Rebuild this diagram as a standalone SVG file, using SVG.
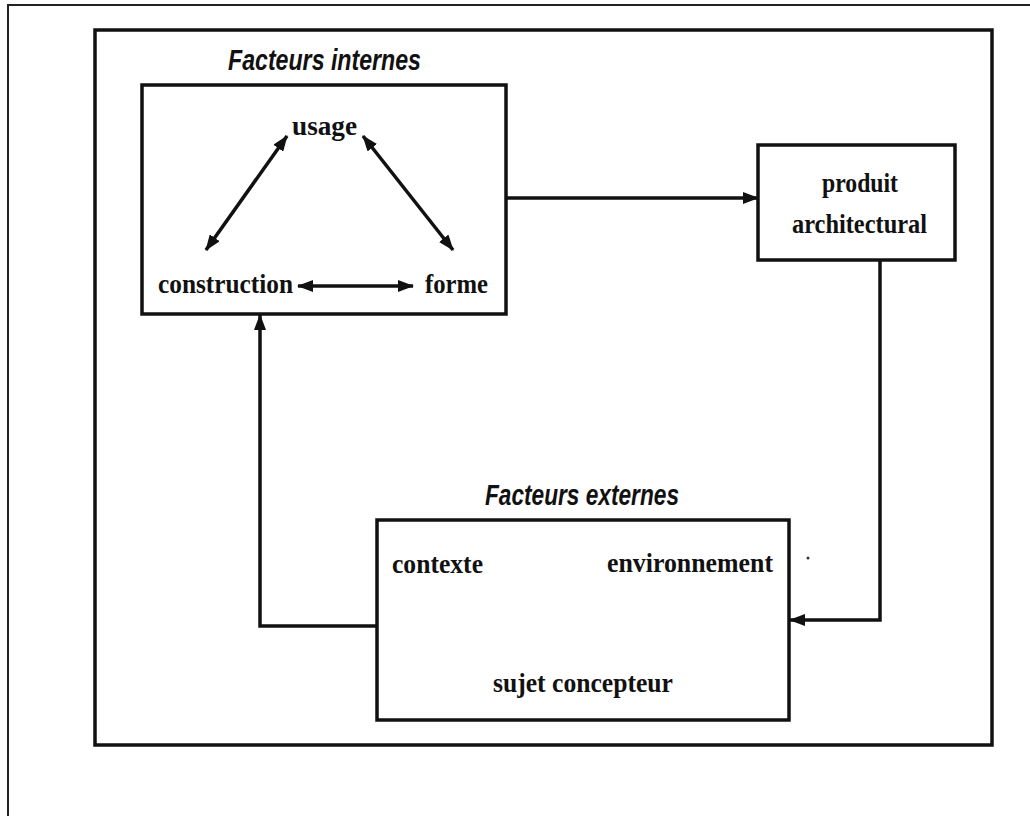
<svg xmlns="http://www.w3.org/2000/svg" width="1030" height="816" viewBox="0 0 1030 816">
  <style>
    .frame { fill: none; stroke: #222; stroke-width: 2; }
    .box { fill: #fff; stroke: #111; stroke-width: 3.5; }
    .wire { fill: none; stroke: #111; stroke-width: 3.5; }
    .lbl { font-family: "Liberation Serif", "Times New Roman", serif; font-size: 28px; font-weight: bold; fill: #111; }
    .title { font-family: "Liberation Sans", Arial, sans-serif; font-size: 29px; font-weight: bold; font-style: italic; fill: #111; }
  </style>
  <defs>
    <marker id="head" viewBox="0 0 16 12" refX="15" refY="6" markerWidth="16" markerHeight="12" markerUnits="userSpaceOnUse" orient="auto-start-reverse">
      <path d="M0,0 L16,6 L0,12 Z" fill="#111"/>
    </marker>
  </defs>

  <rect width="1030" height="816" fill="#fff"/>

  <!-- page edge -->
  <path class="frame" d="M8,816 V5 H1030"/>

  <!-- surrounding frame -->
  <rect id="cadre" class="box" x="95" y="30" width="897" height="715" fill="none"/>

  <g id="facteurs-internes">
    <rect class="box" x="142" y="85" width="364" height="229"/>
    <text class="title" x="228" y="70" textLength="193" lengthAdjust="spacingAndGlyphs">Facteurs internes</text>
  </g>

  <g id="usage">
    <text class="lbl" x="292" y="135" textLength="65" lengthAdjust="spacingAndGlyphs">usage</text>
  </g>
  <g id="construction">
    <text class="lbl" x="158" y="293" textLength="135" lengthAdjust="spacingAndGlyphs">construction</text>
  </g>
  <g id="forme">
    <text class="lbl" x="425" y="293" textLength="63" lengthAdjust="spacingAndGlyphs">forme</text>
  </g>

  <g id="produit-architectural">
    <rect class="box" x="758" y="145" width="197" height="115"/>
    <text class="lbl" x="822" y="192" textLength="76" lengthAdjust="spacingAndGlyphs">produit</text>
    <text class="lbl" x="792" y="233" textLength="135" lengthAdjust="spacingAndGlyphs">architectural</text>
  </g>

  <g id="facteurs-externes">
    <rect class="box" x="377" y="520" width="412" height="200"/>
    <text class="title" x="485" y="505" textLength="194" lengthAdjust="spacingAndGlyphs">Facteurs externes</text>
    <text class="lbl" x="392" y="573" textLength="91" lengthAdjust="spacingAndGlyphs">contexte</text>
    <text class="lbl" x="607" y="572" textLength="166" lengthAdjust="spacingAndGlyphs">environnement</text>
    <text class="lbl" x="493" y="692" textLength="180" lengthAdjust="spacingAndGlyphs">sujet concepteur</text>
    <circle cx="808" cy="558" r="1.5" fill="#333"/>
  </g>

  <g id="connectors">
    <path class="wire" d="M287,136 L206,250" marker-start="url(#head)" marker-end="url(#head)"/>
    <path class="wire" d="M363,136 L453,250" marker-start="url(#head)" marker-end="url(#head)"/>
    <path class="wire" d="M298,286 H413" marker-start="url(#head)" marker-end="url(#head)"/>
    <path class="wire" d="M506,198 H758" marker-end="url(#head)"/>
    <path class="wire" d="M880,260 V620 H790" marker-end="url(#head)"/>
    <path class="wire" d="M377,626 H260 V315" marker-end="url(#head)"/>
  </g>
</svg>
